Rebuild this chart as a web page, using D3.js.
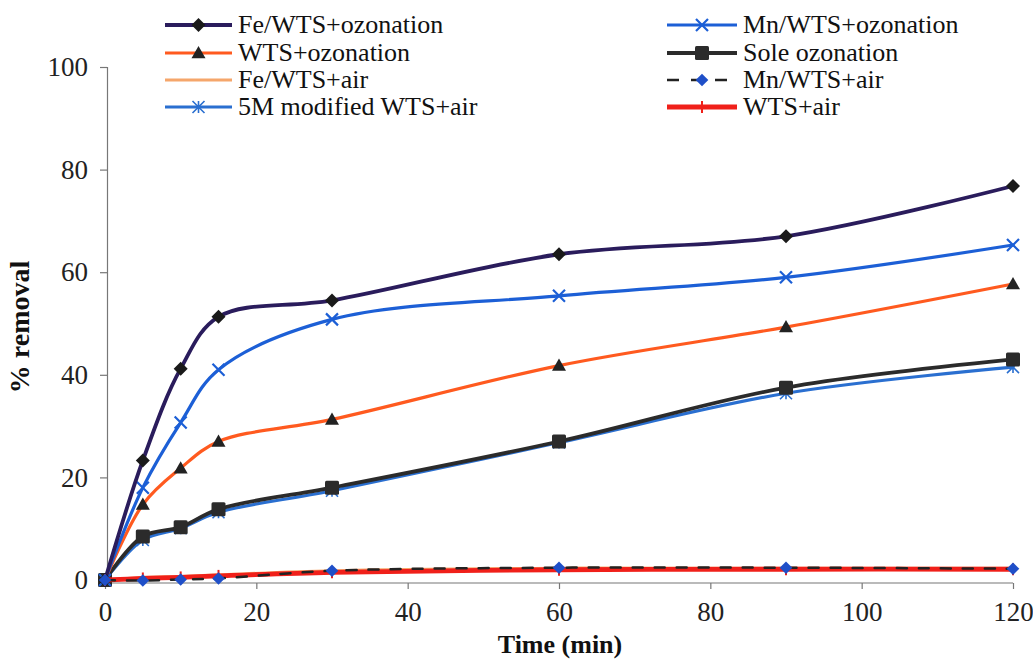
<!DOCTYPE html>
<html><head><meta charset="utf-8">
<script src="https://cdn.jsdelivr.net/npm/d3@7"></script>
<style>body{margin:0;background:#fff}svg{display:block}</style>
</head><body>
<svg id="c" width="1033" height="661"></svg>
<script>
const times = [0, 5, 10, 15, 30, 60, 90, 120];
const feOzone  = [0, 23.3, 41.2, 51.3, 54.5, 63.5, 67.0, 76.8];
const mnOzone  = [0, 18.0, 30.7, 41.0, 50.8, 55.4, 59.0, 65.3];
const wtsOzone = [0, 14.7, 21.8, 27.0, 31.3, 41.8, 49.3, 57.7];
const soleOzone= [0, 8.5, 10.3, 13.8, 18.0, 27.0, 37.5, 43.0];
const mod5Air  = [0, 7.8, 10.1, 13.2, 17.4, 26.8, 36.4, 41.5];
const feAir    = [0, 0.5, 0.7, 1.0, 1.8, 2.3, 2.3, 2.3];
const mnAir    = [0, -0.1, 0.1, 0.3, 1.8, 2.4, 2.4, 2.2];
const wtsAir   = [0, 0.3, 0.5, 0.8, 1.5, 2.0, 2.1, 2.1];
const xTicks = [0, 20, 40, 60, 80, 100, 120];
const yTicks = [0, 20, 40, 60, 80, 100];
const seriesNames = ["Fe/WTS+ozonation","WTS+ozonation","Fe/WTS+air","5M modified WTS+air",
  "Mn/WTS+ozonation","Sole ozonation","Mn/WTS+air","WTS+air"];

const svg = d3.select("#c");
const FONT = "'Liberation Serif','Times New Roman',serif";
const x = d3.scaleLinear().domain([0,120]).range([105,1013]);
const y = d3.scaleLinear().domain([0,100]).range([580,67]);

// axes
const gx = svg.append("g").attr("transform","translate(0,583)")
  .call(d3.axisBottom(x).tickValues(xTicks).tickSize(6).tickPadding(13));
const gy = svg.append("g").attr("transform","translate(107,0)")
  .call(d3.axisLeft(y).tickValues(yTicks).tickSize(7).tickPadding(12));
[gx,gy].forEach(g=>{
  g.select(".domain").attr("stroke","#777").attr("stroke-width",1.2);
  g.selectAll(".tick line").attr("stroke","#777").attr("stroke-width",1.2);
  g.selectAll("text").attr("font-family",FONT).attr("font-size",27).attr("fill","#222");
});
gx.select(".domain").attr("d","M"+x(0)+",0H"+x(120));

svg.append("text").attr("x",560).attr("y",653).attr("text-anchor","middle")
  .attr("font-family",FONT).attr("font-weight","bold").attr("font-size",26).attr("fill","#111")
  .text("Time (min)");
svg.append("text").attr("transform","translate(29,327) rotate(-90)").attr("text-anchor","middle")
  .attr("font-family",FONT).attr("font-weight","bold").attr("font-size",28).attr("fill","#111")
  .text("% removal");

const series = [
  {name:seriesNames[2], vals:feAir, color:"#f5a66b", w:3, marker:null},
  {name:seriesNames[3], vals:mod5Air, color:"#2a6fd0", w:3.2, marker:"asterisk", mcolor:"#2a6fd0"},
  {name:seriesNames[5], vals:soleOzone, color:"#2b2b2b", w:3.8, marker:"square", mcolor:"#2b2b2b"},
  {name:seriesNames[1], vals:wtsOzone, color:"#ff5a1f", w:3.2, marker:"triangle", mcolor:"#222"},
  {name:seriesNames[4], vals:mnOzone, color:"#1c5fd6", w:3.2, marker:"x", mcolor:"#1c5fd6"},
  {name:seriesNames[0], vals:feOzone, color:"#2a1c5c", w:3.8, marker:"diamond", mcolor:"#1a1a1a"},
  {name:seriesNames[7], vals:wtsAir, color:"#f0201a", w:4.8, marker:"plus", mcolor:"#f0201a"},
  {name:seriesNames[6], vals:mnAir, color:"#222", w:2.5, dash:"10,12", marker:"diamond", mcolor:"#1f4fc8", msize:0.9},
];

const line = d3.line().x(d=>x(d[0])).y(d=>y(d[1])).curve(d3.curveCatmullRom.alpha(0.5));

function drawMarker(g, type, cx, cy, color, s){
  s = s||1;
  if(type==="diamond"){
    const r=7*s;
    g.append("path").attr("d",`M${cx},${cy-r}L${cx+r},${cy}L${cx},${cy+r}L${cx-r},${cy}Z`).attr("fill",color);
  } else if(type==="square"){
    const r=7*s;
    g.append("rect").attr("x",cx-r).attr("y",cy-r).attr("width",2*r).attr("height",2*r).attr("rx",1.5).attr("fill",color);
  } else if(type==="triangle"){
    const r=7*s;
    g.append("path").attr("d",`M${cx},${cy-r}L${cx+r},${cy+r*0.75}L${cx-r},${cy+r*0.75}Z`).attr("fill",color);
  } else if(type==="x"){
    const r=6*s;
    g.append("path").attr("d",`M${cx-r},${cy-r}L${cx+r},${cy+r}M${cx+r},${cy-r}L${cx-r},${cy+r}`).attr("stroke",color).attr("stroke-width",2.2);
  } else if(type==="asterisk"){
    const r=6*s;
    g.append("path").attr("d",`M${cx-r},${cy-r}L${cx+r},${cy+r}M${cx+r},${cy-r}L${cx-r},${cy+r}M${cx},${cy-r}L${cx},${cy+r}`).attr("stroke",color).attr("stroke-width",1.6);
  } else if(type==="plus"){
    const r=6*s;
    g.append("path").attr("d",`M${cx},${cy-r}L${cx},${cy+r}`).attr("stroke",color).attr("stroke-width",2);
  }
}

series.forEach(s=>{
  const pts = times.map((t,i)=>[t,s.vals[i]]);
  svg.append("path").attr("d",line(pts)).attr("fill","none").attr("stroke",s.color)
    .attr("stroke-width",s.w).attr("stroke-dasharray",s.dash||null).attr("stroke-linecap","round");
  if(s.marker){
    const g=svg.append("g");
    pts.forEach(p=>drawMarker(g,s.marker,x(p[0]),y(p[1]),s.mcolor,s.msize));
  }
});

// legend
const legendOrder = [0,1,2,3,4,5,6,7].map(i=>series.find(s=>s.name===seriesNames[i]));
const rowsY = [25,53,80,107];
legendOrder.forEach((s,i)=>{
  const col = i<4?0:1, row=i%4;
  const x0 = col===0?165:667, x1 = col===0?232:737, ty=rowsY[row];
  const g=svg.append("g");
  g.append("line").attr("x1",x0).attr("x2",x1).attr("y1",ty).attr("y2",ty)
    .attr("stroke",s.color).attr("stroke-width",s.w).attr("stroke-dasharray",s.dash?"12,12":null);
  if(s.marker) drawMarker(g,s.marker,(x0+x1)/2,ty,s.mcolor,s.msize);
  g.append("text").attr("x",x1+6).attr("y",ty+8).attr("font-family",FONT).attr("font-size",26)
    .attr("fill","#111").text(s.name);
});
</script>
</body></html>
